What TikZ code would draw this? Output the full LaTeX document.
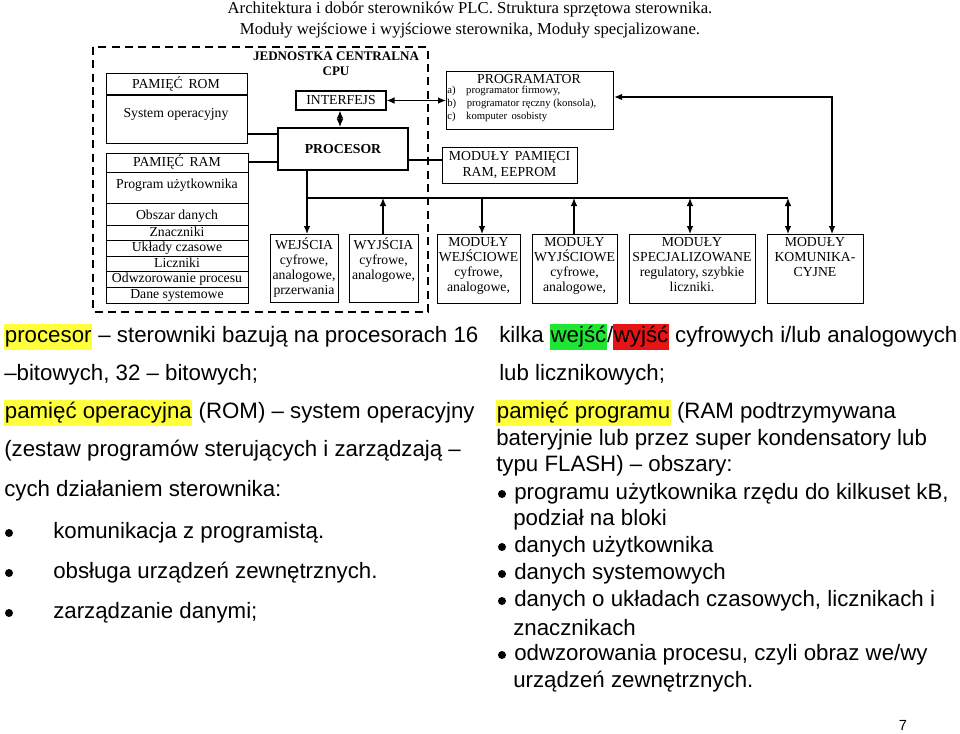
\documentclass[tikz,border=0pt]{standalone}
\usepackage{fontspec}
\setmainfont{Liberation Serif}
\newfontfamily\arial[Ligatures=TeX]{Liberation Sans}
\usetikzlibrary{arrows.meta}
\definecolor{hlyel}{RGB}{255,255,60}
\definecolor{hlgrn}{RGB}{30,230,50}
\definecolor{hlred}{RGB}{230,20,20}
\newcommand{\hy}[1]{\begingroup\setlength{\fboxsep}{0.5pt}\colorbox{hlyel}{\strut #1}\endgroup}
\newcommand{\hg}[1]{\begingroup\setlength{\fboxsep}{0.5pt}\colorbox{hlgrn}{\strut #1}\endgroup}
\newcommand{\hr}[1]{\begingroup\setlength{\fboxsep}{0.5pt}\colorbox{hlred}{\strut #1}\endgroup}
\begin{document}
\begin{tikzpicture}[x=0.75pt,y=-0.75pt,
  bx/.style={draw,line width=0.9pt,align=center,inner sep=0pt,font=\fontsize{10.3}{11}\selectfont},
  wh/.style 2 args={minimum width=#1*0.75pt,minimum height=#2*0.75pt},
  lab/.style={font=\fontsize{10.3}{11.3}\selectfont,inner sep=0pt},
  conn/.style={line width=0.9pt},
  arr/.style={conn,-{Latex[length=6pt,width=5pt]}},
  darr/.style={conn,{Latex[length=6pt,width=5pt]}-{Latex[length=6pt,width=5pt]}},
  tx/.style={anchor=west,inner sep=0pt,font=\arial\fontsize{16.7}{19}\selectfont},
  bul/.style={circle,fill,inner sep=0pt,minimum size=6pt}]
\useasboundingbox (0,0) rectangle (960,733);
% header
\node[font=\fontsize{12.5}{14}\selectfont,inner sep=0pt] (h1) at (470,9) {Architektura i dobór sterowników PLC. Struktura sprzętowa sterownika.};
\node[font=\fontsize{12.5}{14}\selectfont,inner sep=0pt] (h2) at (470,30) {Moduły wejściowe i wyjściowe sterownika, Moduły specjalizowane.};
% CPU dashed
\draw[line width=1.3pt,dash pattern=on 6pt off 4pt] (93,47) rectangle (428,312);
\node[lab,font=\bfseries\fontsize{9.8}{11}\selectfont,align=center] (cpu) at (336,64) {JEDNOSTKA CENTRALNA\\CPU};
% ROM
\node[bx,wh={141}{70},anchor=north west] (rom) at (106,73) {};
\draw[conn] (106,95) -- (247,95);
\node[lab] (romt) at (176,84) {PAMIĘĆ\, ROM};
\node[lab] (roms) at (176,114) {System operacyjny};
% RAM
\node[bx,wh={142}{150},anchor=north west] (ram) at (106,153) {};
\foreach \yy in {172,203,225,240,256,271,287} \draw[line width=0.7pt] (106,\yy) -- (248,\yy);
\node[lab] (ramt) at (177,162) {PAMIĘĆ\, RAM};
\node[lab] (r1) at (177,185) {Program użytkownika};
\node[lab] (r2) at (177,216) {Obszar danych};
\node[lab] (r3) at (177,232) {Znaczniki};
\node[lab] (r4) at (177,248) {Układy czasowe};
\node[lab] (r5) at (177,263) {Liczniki};
\node[lab] (r6) at (177,279) {Odwzorowanie procesu};
\node[lab] (r7) at (177,295) {Dane systemowe};
% INTERFEJS, PROCESOR
\node[bx,wh={90}{19}] (intf) at (341,100.5) {INTERFEJS};
\node[bx,line width=1.6pt,wh={130}{42},font=\bfseries\fontsize{10.3}{11}\selectfont] (proc) at (343,149) {PROCESOR};
\draw[conn] (247,134) -- (proc.west |- 0,134);
\draw[conn] (248,162) -- (proc.west |- 0,162);
\draw[darr] (intf.south -| 340,0) -- (proc.north -| 340,0);
% WE/WY
\node[bx,wh={68}{68},anchor=north west] (we) at (270,234) {};
\node[lab,align=center,anchor=north] (wet) at (304,237) {WEJŚCIA\\cyfrowe,\\analogowe,\\przerwania};
\node[bx,wh={69}{68},anchor=north west] (wy) at (349,234) {};
\node[lab,align=center,anchor=north] (wyt) at (383.5,237) {WYJŚCIA\\cyfrowe,\\analogowe,};
% PROGRAMATOR
\node[bx,wh={167}{58},anchor=north west] (prog) at (446,71) {};
\node[lab] (progt) at (529,79) {PROGRAMATOR};
\node[lab,font=\fontsize{8}{9.8}\selectfont,anchor=north west,align=left] (progl) at (447,86) {a)\quad programator firmowy,\\b)\quad programator ręczny (konsola),\\c)\quad komputer\, osobisty};
\node[bx,wh={135}{36},anchor=north west] (pam) at (442,147) {};
\node[lab,align=center] (pamt) at (509.5,165) {MODUŁY\, PAMIĘCI\\RAM, EEPROM};
% modules
\node[bx,wh={83}{69},anchor=north west] (m1) at (437,234) {};
\node[lab,align=center,anchor=north] (m1t) at (478.5,237) {MODUŁY\\WEJŚCIOWE\\cyfrowe,\\analogowe,};
\node[bx,wh={85}{69},anchor=north west] (m2) at (532,234) {};
\node[lab,align=center,anchor=north] (m2t) at (574.5,237) {MODUŁY\\WYJŚCIOWE\\cyfrowe,\\analogowe,};
\node[bx,wh={126}{69},anchor=north west] (m3) at (629,234) {};
\node[lab,align=center,anchor=north] (m3t) at (692,237) {MODUŁY\\SPECJALIZOWANE\\regulatory, szybkie\\liczniki.};
\node[bx,wh={96}{69},anchor=north west] (m4) at (767,234) {};
\node[lab,align=center,anchor=north] (m4t) at (815,237) {MODUŁY\\KOMUNIKA-\\CYJNE};
% connections
\draw[darr] (intf.east) -- (prog.west |- intf.east);
\draw[conn] (proc.east |- 0,160) -- (pam.west |- 0,160);
\coordinate (b0) at (307,198);
\coordinate (b1) at (788,198);
\draw[conn] (proc.south -| b0) -- (b0) -- (b1);
\draw[arr] (b0) -- (we.north -| b0);
\draw[arr] (wy.north -| 383,0) -- (383,198);
\draw[arr] (482,198) -- (m1.north -| 482,0);
\draw[arr] (m2.north -| 574,0) -- (574,198);
\draw[darr] (690,198) -- (m3.north -| 690,0);
\draw[darr] (b1) -- (m4.north -| b1);
\coordinate (pc) at (832,97);
\draw[darr] (prog.east |- pc) -- (pc) -- (m4.north -| pc);
% text left
\node[tx] (l1) at (4,337) {\hy{procesor} – sterowniki bazują na procesorach 16};
\node[tx] (l2) at (4,375) {–bitowych, 32 – bitowych;};
\node[tx] (l3) at (4,413) {\hy{pamięć operacyjna} (ROM) – system operacyjny};
\node[tx] (l4) at (4,451) {(zestaw programów sterujących i zarządzają –};
\node[tx] (l5) at (4,491) {cych działaniem sterownika:};
\node[bul] (lb1) at (9,533) {}; \node[tx] (l6) at (53,533) {komunikacja z programistą.};
\node[bul] (lb2) at (9,573) {}; \node[tx] (l7) at (53,573) {obsługa urządzeń zewnętrznych.};
\node[bul] (lb3) at (9,613) {}; \node[tx] (l8) at (53,613) {zarządzanie danymi;};
% text right
\node[tx] (q1) at (499,337) {kilka \hg{wejść}/\hr{wyjść} cyfrowych i/lub analogowych};
\node[tx] (q2) at (499,375) {lub licznikowych;};
\node[tx] (q3) at (496,413) {\hy{pamięć programu} (RAM podtrzymywana};
\node[tx] (q4) at (496,440) {bateryjnie lub przez super kondensatory lub};
\node[tx] (q5) at (496,466) {typu FLASH) – obszary:};
\node[bul] (qb1) at (502,494) {}; \node[tx] (q6) at (514,494) {programu użytkownika rzędu do kilkuset kB,};
\node[tx] (q7) at (513,520) {podział na bloki};
\node[bul] (qb2) at (502,547) {}; \node[tx] (q8) at (514,547) {danych użytkownika};
\node[bul] (qb3) at (502,574) {}; \node[tx] (q9) at (514,574) {danych systemowych};
\node[bul] (qb4) at (502,601) {}; \node[tx] (q10) at (514,601) {danych o układach czasowych, licznikach i};
\node[tx] (q11) at (513,628) {znacznikach};
\node[bul] (qb5) at (502,655) {}; \node[tx] (q12) at (514,655) {odwzorowania procesu, czyli obraz we/wy};
\node[tx] (q13) at (513,682) {urządzeń zewnętrznych.};
\node[font=\arial\fontsize{11}{13}\selectfont,inner sep=0pt] (pg) at (903,725) {7};
\end{tikzpicture}
\end{document}
